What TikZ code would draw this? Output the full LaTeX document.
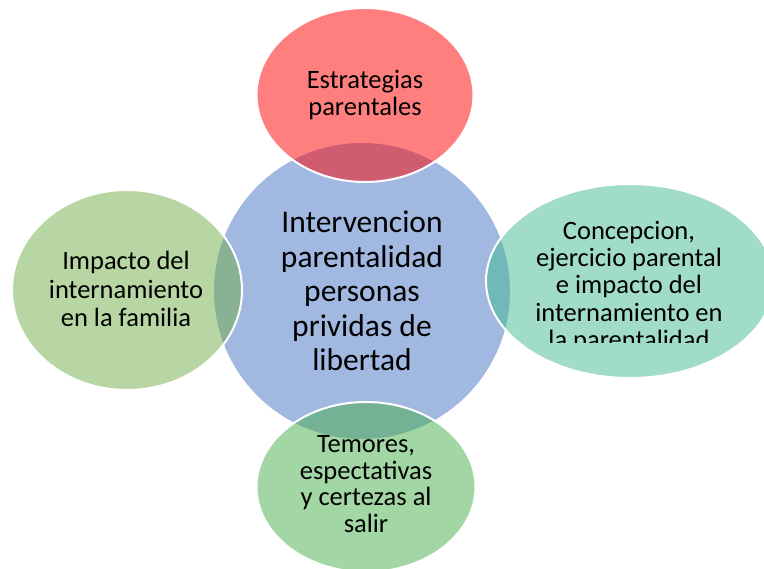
\documentclass[tikz,border=0pt]{standalone}
\usepackage{fontspec}
\setmainfont{Carlito}
\usetikzlibrary{shapes.geometric}

\definecolor{azulcentro}{HTML}{4472C4}
\definecolor{rojoestrat}{HTML}{FF0000}
\definecolor{verdeimpacto}{HTML}{70AD47}
\definecolor{verdeconcep}{HTML}{41B991}
\definecolor{verdetemor}{HTML}{47AD4B}

\tikzset{
  burbuja/.style={ellipse, inner sep=0pt, fill opacity=0.5, draw=white, line width=2pt},
  etiqueta/.style={align=center, inner sep=0pt, text=black},
  letra/.style={font=\fontsize{26.5}{#1}\selectfont}
}

\begin{document}
\begin{tikzpicture}[x=1pt,y=-1pt]
  \clip (0,0) rectangle (764,569);
  % circulo central
  \node[circle, inner sep=0pt, fill=azulcentro, fill opacity=0.5, minimum size=296pt] (interv) at (362,291) {};
  \node[etiqueta, font=\fontsize{31.5}{34.5}\selectfont] (interv-txt) at (interv.center)
    {Intervencion\\parentalidad\\personas\\prividas de\\libertad};

  % burbujas alrededor
  \node[burbuja, fill=rojoestrat, minimum width=217pt, minimum height=174pt] (estrat) at (365,95) {};
  \node[burbuja, fill=verdeimpacto, minimum width=230pt, minimum height=200pt] (impacto) at (127,290) {};
  \node[burbuja, fill=verdeconcep, minimum width=288pt, minimum height=194pt] (concep) at (630,281) {};
  \node[burbuja, fill=verdetemor, minimum width=219pt, minimum height=170pt] (temor) at (366,487) {};

  \node[etiqueta, letra=27] (estrat-txt) at (365,95) {Estrategias\\parentales};
  \node[etiqueta, letra=28.5] (impacto-txt) at (126,289) {Impacto del\\internamiento\\en la familia};
  \node[etiqueta, letra=26.7] (temor-txt) at (366,484) {Temores,\\espectativas\\y certezas al\\salir};
  \begin{scope}
    \clip (480,150) rectangle (764,343);
    \node[etiqueta, letra=27.2] (concep-txt) at (629,287)
      {Concepcion,\\ejercicio parental\\e impacto del\\internamiento en\\la parentalidad};
  \end{scope}
\end{tikzpicture}
\end{document}
